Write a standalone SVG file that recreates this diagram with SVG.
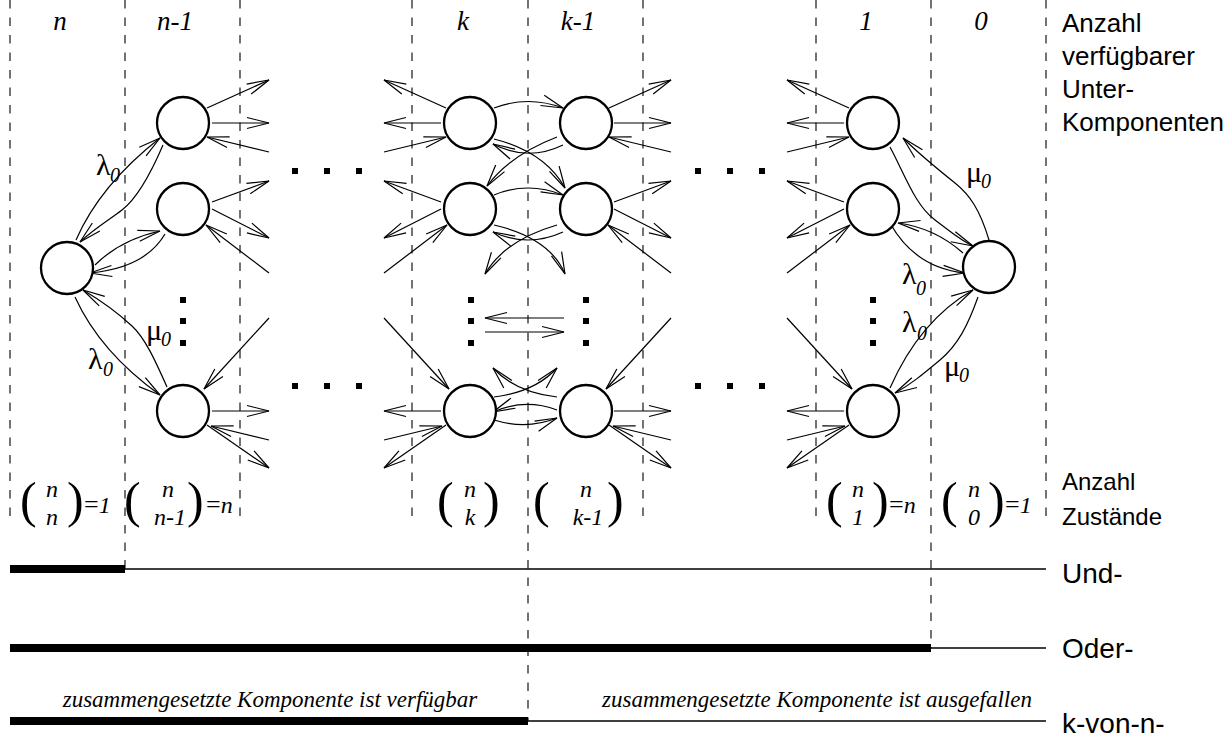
<svg xmlns="http://www.w3.org/2000/svg" width="1226" height="737" viewBox="0 0 1226 737">
  <style>
    .bg { fill: #fff; }
    .grid { stroke: #000; stroke-width: 1.1; stroke-dasharray: 8.5 9; fill: none; }
    .state { fill: #fff; stroke: #000; stroke-width: 2.3; }
    .edge { fill: none; stroke: #000; stroke-width: 1.2; marker-end: url(#ah); }
    .dot { fill: #000; }
    .thin { stroke: #000; stroke-width: 1.3; }
    .thick { stroke: #000; stroke-width: 8; }
    .var { font-family: "Liberation Serif", "Times New Roman", serif; font-style: italic; font-size: 27px; fill: #000; }
    .bin { font-family: "Liberation Serif", "Times New Roman", serif; font-style: italic; font-size: 24px; fill: #000; }
    .par { font-family: "Liberation Serif", "Times New Roman", serif; font-size: 50px; fill: #000; }
    .eq { font-family: "Liberation Serif", "Times New Roman", serif; font-size: 26px; fill: #000; }
    .greek { font-family: "Liberation Serif", "Times New Roman", serif; font-size: 30px; fill: #000; }
    .sub { font-family: "Liberation Serif", "Times New Roman", serif; font-style: italic; font-size: 20px; fill: #000; }
    .lbl { font-family: "Liberation Sans", Arial, sans-serif; font-size: 26px; fill: #000; }
    .lbl2 { font-family: "Liberation Sans", Arial, sans-serif; font-size: 24px; fill: #000; }
    .sys { font-family: "Liberation Sans", Arial, sans-serif; font-size: 28px; fill: #000; }
    .note { font-family: "Liberation Serif", "Times New Roman", serif; font-style: italic; font-size: 23px; fill: #000; }
  </style>
  <defs>
    <marker id="ah" markerUnits="userSpaceOnUse" markerWidth="30" markerHeight="16" viewBox="-25 -8 30 16" refX="0" refY="0" orient="auto" overflow="visible">
      <path d="M-22,-5.5 L0,0 L-22,5.5" fill="none" stroke="#000" stroke-width="1.2"/>
    </marker>
    <!-- fan of transitions leaving a column, drawn for the right-hand side -->
    <g id="fanTop">
      <path class="edge" d="M24,-15 L86,-43"/>
      <path class="edge" d="M29,0 L86,0"/>
      <path class="edge" d="M86,29 L24,14"/>
    </g>
    <g id="fanMid">
      <path class="edge" d="M29,-7 L86,-28"/>
      <path class="edge" d="M29,0 L86,29"/>
      <path class="edge" d="M86,64 L23,16"/>
    </g>
    <g id="fanBot">
      <path class="edge" d="M86,-93 L21,-22"/>
      <path class="edge" d="M29,0 L86,0"/>
      <path class="edge" d="M86,29 L28,15"/>
      <path class="edge" d="M24,14 L86,57"/>
    </g>
  </defs>

  <rect class="bg" x="0" y="0" width="1226" height="737"/>

  <!-- column separators -->
  <g id="grid">
    <line class="grid" x1="10" y1="0" x2="10" y2="516"/>
    <line class="grid" x1="125" y1="0" x2="125" y2="569"/>
    <line class="grid" x1="240" y1="0" x2="240" y2="516"/>
    <line class="grid" x1="412" y1="0" x2="412" y2="516"/>
    <line class="grid" x1="528" y1="0" x2="528" y2="721"/>
    <line class="grid" x1="643" y1="0" x2="643" y2="516"/>
    <line class="grid" x1="816" y1="0" x2="816" y2="516"/>
    <line class="grid" x1="931" y1="0" x2="931" y2="648"/>
    <line class="grid" x1="1046" y1="0" x2="1046" y2="516"/>
  </g>

  <!-- column headings -->
  <g id="headings">
    <text class="var" x="60" y="30" text-anchor="middle">n</text>
    <text class="var" x="175" y="30" text-anchor="middle">n-1</text>
    <text class="var" x="463" y="30" text-anchor="middle">k</text>
    <text class="var" x="578" y="30" text-anchor="middle">k-1</text>
    <text class="var" x="866" y="30" text-anchor="middle">1</text>
    <text class="var" x="981" y="30" text-anchor="middle">0</text>
    <text class="lbl" x="1062" y="32">Anzahl</text>
    <text class="lbl" x="1062" y="65">verfügbarer</text>
    <text class="lbl" x="1062" y="98">Unter-</text>
    <text class="lbl" x="1062" y="131">Komponenten</text>
  </g>

  <!-- transitions -->
  <g id="connectors">
    <!-- fans towards the omitted columns -->
    <use href="#fanTop" transform="translate(183,123)"/>
    <use href="#fanMid" transform="translate(183,209)"/>
    <use href="#fanBot" transform="translate(183,411)"/>
    <use href="#fanTop" transform="translate(470,123) scale(-1,1)"/>
    <use href="#fanMid" transform="translate(470,209) scale(-1,1)"/>
    <use href="#fanBot" transform="translate(470,411) scale(-1,1)"/>
    <use href="#fanTop" transform="translate(585,123)"/>
    <use href="#fanMid" transform="translate(585,209)"/>
    <use href="#fanBot" transform="translate(585,411)"/>
    <use href="#fanTop" transform="translate(873,123) scale(-1,1)"/>
    <use href="#fanMid" transform="translate(873,209) scale(-1,1)"/>
    <use href="#fanBot" transform="translate(873,411) scale(-1,1)"/>

    <!-- n <-> n-1 -->
    <path class="edge" d="M76,240 Q100,185 160,138"/>
    <path class="edge" d="M163,145 C148,180 135,200 122,210 S95,228 80,242"/>
    <path class="edge" d="M95,265 Q120,240 160,231"/>
    <path class="edge" d="M165,234 Q145,268 90,273"/>
    <path class="edge" d="M75,297 Q100,352 160,395"/>
    <path class="edge" d="M167,387 C155,360 145,338 132,326 S100,300 83,290"/>

    <!-- k <-> k-1 -->
    <path class="edge" d="M494,108 Q528,95 563,108"/>
    <path class="edge" d="M563,145 Q528,162 493,144"/>
    <path class="edge" d="M557,137 Q510,155 487,186"/>
    <path class="edge" d="M494,139 Q545,152 565,188"/>
    <path class="edge" d="M494,195 Q528,181 563,195"/>
    <path class="edge" d="M563,232 Q528,248 493,232"/>
    <path class="edge" d="M557,225 Q505,240 485,274"/>
    <path class="edge" d="M494,225 Q550,238 565,274"/>
    <path class="edge" d="M564,318 L485,318"/>
    <path class="edge" d="M485,332 L564,332"/>
    <path class="edge" d="M494,397 Q535,392 557,368"/>
    <path class="edge" d="M557,397 Q515,392 493,368"/>
    <path class="edge" d="M557,410 Q525,398 493,412"/>
    <path class="edge" d="M494,420 Q527,430 557,418"/>

    <!-- 1 <-> 0 -->
    <path class="edge" d="M890,147 C905,175 915,205 935,220 S960,240 973,246"/>
    <path class="edge" d="M989,240 C980,210 970,195 955,183 S920,155 903,138"/>
    <path class="edge" d="M963,253 Q935,228 898,223"/>
    <path class="edge" d="M890,223 Q915,268 965,273"/>
    <path class="edge" d="M890,388 Q920,320 973,290"/>
    <path class="edge" d="M978,297 C968,325 958,345 940,360 S910,385 895,393"/>
  </g>

  <!-- rate labels -->
  <g id="rates">
    <text class="greek" x="96" y="175">λ</text><text class="sub" x="110" y="182">0</text>
    <text class="greek" x="146" y="340">μ</text><text class="sub" x="161" y="346">0</text>
    <text class="greek" x="88" y="369">λ</text><text class="sub" x="103" y="376">0</text>
    <text class="greek" x="966" y="182">μ</text><text class="sub" x="981" y="188">0</text>
    <text class="greek" x="902" y="284">λ</text><text class="sub" x="916" y="295">0</text>
    <text class="greek" x="902" y="332">λ</text><text class="sub" x="917" y="340">0</text>
    <text class="greek" x="944" y="376">μ</text><text class="sub" x="959" y="382">0</text>
  </g>

  <!-- states -->
  <g id="s-n"><circle class="state" cx="67" cy="268" r="26"/></g>
  <g id="s-n1-a"><circle class="state" cx="183" cy="123" r="26"/></g>
  <g id="s-n1-b"><circle class="state" cx="183" cy="209" r="26"/></g>
  <g id="s-n1-c"><circle class="state" cx="183" cy="411" r="26"/></g>
  <g id="s-k-a"><circle class="state" cx="470" cy="123" r="26"/></g>
  <g id="s-k-b"><circle class="state" cx="470" cy="209" r="26"/></g>
  <g id="s-k-c"><circle class="state" cx="470" cy="411" r="26"/></g>
  <g id="s-k1-a"><circle class="state" cx="586" cy="123" r="26"/></g>
  <g id="s-k1-b"><circle class="state" cx="586" cy="209" r="26"/></g>
  <g id="s-k1-c"><circle class="state" cx="586" cy="411" r="26"/></g>
  <g id="s-1-a"><circle class="state" cx="873" cy="123" r="26"/></g>
  <g id="s-1-b"><circle class="state" cx="873" cy="209" r="26"/></g>
  <g id="s-1-c"><circle class="state" cx="873" cy="411" r="26"/></g>
  <g id="s-0"><circle class="state" cx="989" cy="267" r="26"/></g>

  <!-- ellipsis marks -->
  <g id="ellipses">
    <rect class="dot" x="292" y="168" width="6" height="6"/>
    <rect class="dot" x="324" y="168" width="6" height="6"/>
    <rect class="dot" x="356" y="168" width="6" height="6"/>
    <rect class="dot" x="292" y="383" width="6" height="6"/>
    <rect class="dot" x="324" y="383" width="6" height="6"/>
    <rect class="dot" x="356" y="383" width="6" height="6"/>
    <rect class="dot" x="695" y="168" width="6" height="6"/>
    <rect class="dot" x="727" y="168" width="6" height="6"/>
    <rect class="dot" x="759" y="168" width="6" height="6"/>
    <rect class="dot" x="695" y="383" width="6" height="6"/>
    <rect class="dot" x="727" y="383" width="6" height="6"/>
    <rect class="dot" x="759" y="383" width="6" height="6"/>
    <rect class="dot" x="180" y="297" width="6" height="6"/>
    <rect class="dot" x="180" y="318" width="6" height="6"/>
    <rect class="dot" x="180" y="340" width="6" height="6"/>
    <rect class="dot" x="468" y="297" width="6" height="6"/>
    <rect class="dot" x="468" y="318" width="6" height="6"/>
    <rect class="dot" x="468" y="340" width="6" height="6"/>
    <rect class="dot" x="583" y="297" width="6" height="6"/>
    <rect class="dot" x="583" y="318" width="6" height="6"/>
    <rect class="dot" x="583" y="340" width="6" height="6"/>
    <rect class="dot" x="870" y="297" width="6" height="6"/>
    <rect class="dot" x="870" y="318" width="6" height="6"/>
    <rect class="dot" x="870" y="340" width="6" height="6"/>
  </g>

  <!-- number of states per column -->
  <g id="counts">
    <text class="par" x="20" y="517">(</text>
    <text class="bin" x="52" y="497" text-anchor="middle">n</text>
    <text class="bin" x="52" y="525" text-anchor="middle">n</text>
    <text class="par" x="67" y="517">)</text>
    <text class="eq" x="84" y="513">=<tspan class="bin">1</tspan></text>

    <text class="par" x="124" y="517">(</text>
    <text class="bin" x="168" y="497" text-anchor="middle">n</text>
    <text class="bin" x="170" y="525" text-anchor="middle">n-1</text>
    <text class="par" x="187" y="517">)</text>
    <text class="eq" x="206" y="513">=<tspan class="bin">n</tspan></text>

    <text class="par" x="437" y="517">(</text>
    <text class="bin" x="470" y="497" text-anchor="middle">n</text>
    <text class="bin" x="470" y="525" text-anchor="middle">k</text>
    <text class="par" x="483" y="517">)</text>

    <text class="par" x="533" y="517">(</text>
    <text class="bin" x="586" y="497" text-anchor="middle">n</text>
    <text class="bin" x="588" y="525" text-anchor="middle">k-1</text>
    <text class="par" x="607" y="517">)</text>

    <text class="par" x="826" y="517">(</text>
    <text class="bin" x="858" y="497" text-anchor="middle">n</text>
    <text class="bin" x="858" y="525" text-anchor="middle">1</text>
    <text class="par" x="872" y="517">)</text>
    <text class="eq" x="889" y="513">=<tspan class="bin">n</tspan></text>

    <text class="par" x="941" y="517">(</text>
    <text class="bin" x="974" y="497" text-anchor="middle">n</text>
    <text class="bin" x="974" y="525" text-anchor="middle">0</text>
    <text class="par" x="988" y="517">)</text>
    <text class="eq" x="1005" y="513">=<tspan class="bin">1</tspan></text>

    <text class="lbl2" x="1062" y="490">Anzahl</text>
    <text class="lbl2" x="1062" y="525">Zustände</text>
  </g>

  <!-- availability bars of the composed component -->
  <g id="bars">
    <line class="thick" x1="10" y1="569" x2="125" y2="569"/>
    <line class="thin" x1="125" y1="569" x2="1046" y2="569"/>
    <text class="sys" x="1062" y="583">Und-</text>

    <line class="thick" x1="10" y1="648" x2="931" y2="648"/>
    <line class="thin" x1="931" y1="648" x2="1046" y2="648"/>
    <text class="sys" x="1062" y="658">Oder-</text>

    <text class="note" x="270" y="707" text-anchor="middle">zusammengesetzte Komponente ist verfügbar</text>
    <text class="note" x="817" y="707" text-anchor="middle">zusammengesetzte Komponente ist ausgefallen</text>
    <line class="thick" x1="10" y1="721" x2="528" y2="721"/>
    <line class="thin" x1="528" y1="721" x2="1046" y2="721"/>
    <text class="sys" x="1062" y="733">k-von-n-</text>
  </g>
</svg>
